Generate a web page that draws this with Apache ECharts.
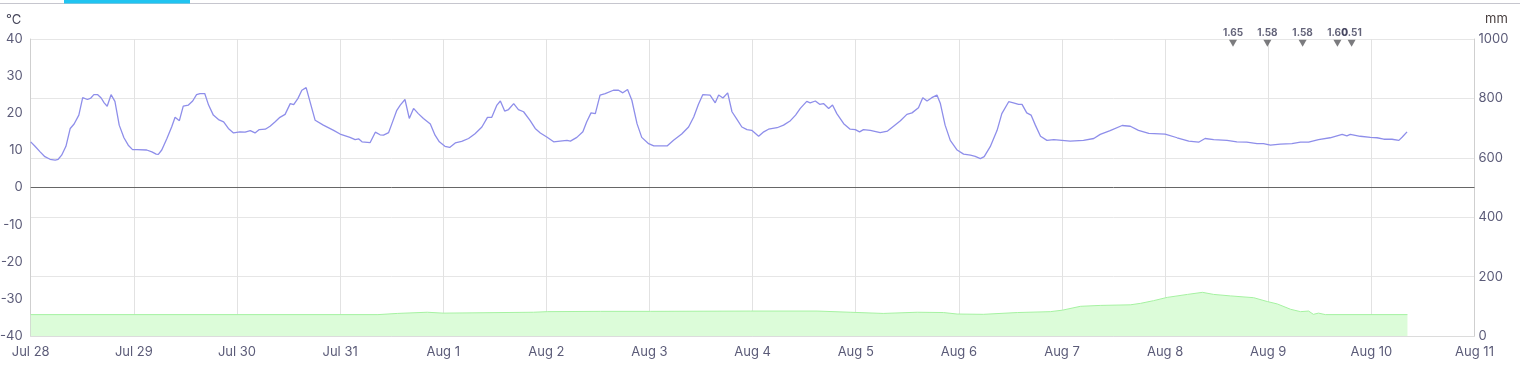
<!DOCTYPE html>
<html>
<head>
<meta charset="utf-8">
<script src="https://cdn.jsdelivr.net/npm/echarts@6/dist/echarts.min.js"></script>
<style>html,body{margin:0;padding:0;background:#fff}#c{width:1533px;height:366px}</style>
</head>
<body>
<div id="c"></div>
<script>
const dayLabels = ['Jul 28','Jul 29','Jul 30','Jul 31','Aug 1','Aug 2','Aug 3','Aug 4','Aug 5','Aug 6','Aug 7','Aug 8','Aug 9','Aug 10','Aug 11'];
const tempLeftTicks = [-40,-30,-20,-10,0,10,20,30,40];
const rainRightTicks = [0,200,400,600,800,1000];

// Temperature (°C): hours since Jul 28 00:00, values
const tempHours = [0,1,2.2,3.3,4.5,5.7,6.4,7.2,8.2,9.2,10.1,11.2,12.1,13.2,14,14.7,15.6,16.4,17.1,17.8,18.7,19.6,20.6,21.7,22.7,23.7,
24.7,27,28.2,29.2,29.7,30.5,31.7,32.8,33.6,34.6,35.5,36.7,37.7,38.6,39.4,40.5,41.4,42.5,43.7,44.9,46,47.2,
48.7,49.9,51.1,52.2,53.2,54.6,55.7,56.9,58,59.2,60.4,61.2,62.2,63.1,64.1,66.2,68.1,70.5,72,74.3,75.5,76.3,77.1,79,
80.2,81.3,82.1,83.3,84,85.2,86,87.1,88.1,89.1,90.2,91.4,93,94.1,95.1,96.4,97.5,98.8,100.3,101.9,103.4,105,106.3,107.3,108.5,109.3,110.3,111.2,112.4,113.5,114.7,116.2,117.4,118.6,120.1,121.7,123.2,124.8,125.6,127.1,128.5,129.4,130.4,131.4,132.5,133.7,135.6,136.8,137.8,138.9,139.9,141.1,142.2,143.8,145,146.5,148.1,149.6,151.5,153.1,154.3,155.4,156.4,158.1,159.3,160.1,161.1,162.2,163.2,164.4,165.5,166.7,167.8,169.4,170.6,171.7,173.7,175.2,176.8,178,179.1,
180.6,181.4,182.6,183.6,184.5,185.7,186.6,187.6,189.2,190.7,191.9,192.9,193.8,195.4,197.7,199.4,200.8,202.4,203.9,205.1,206.6,207.6,208.6,209.7,210.9,211.7,212.8,214,215.6,217.1,218.7,219.8,221,221.9,223.3,224.9,226,227.6,228.7,229.9,230.7,231.8,232.8,233.8,235,236.5,238.1,240,241.9,245,247.4,
248.9,251.2,254,255.9,257.8,260.2,264,266.8,269.5,271.8,273.3,275.3,278.4,280.7,283,285.4,286.9,288.5,290.8,293.5,295.5,297.4,299.7,302.4,305.2,306.3,307.1,309.4,311.8,313.3,314.9,316.8,318.4,319.2,320.3];
const tempValues = [12.3,11.1,9.6,8.3,7.6,7.4,7.6,8.7,11.1,15.9,17.1,19.5,24.2,23.7,24.1,25,25,24.1,22.8,21.9,25,23.2,16.8,13.4,11.4,10.2,
10.2,10.1,9.6,9,8.9,10.1,13.2,16.3,18.9,18,21.9,22.2,23.3,25,25.3,25.3,22.2,19.5,18.3,17.7,15.9,14.7,
15,14.9,15.3,14.7,15.6,15.7,16.5,17.7,18.9,19.7,22.6,22.3,24,26.2,26.9,18.1,16.8,15.4,14.4,13.5,12.9,13.1,12.3,12.1,
14.9,14.2,14.1,14.8,17,20.8,22.2,23.7,18.6,21.3,19.9,18.6,17.1,14.1,12.3,11.1,10.8,12,12.4,13.2,14.5,16.3,18.9,18.9,22.2,23.3,20.6,21,22.6,21,20.4,18.1,15.9,14.7,13.6,12.3,12.5,12.7,12.5,13.5,15,17.7,20.1,19.9,24.9,25.3,26.2,26.2,25.5,26.4,23.5,17.2,13.5,11.8,11.2,11.2,11.2,12.7,14.4,16.3,19,22.4,25,24.9,22.8,24.9,24.1,25.5,20.4,18.3,16.3,15.6,15.4,13.8,15,15.7,16.1,16.8,18,19.5,21.3,
23.2,22.8,23.3,22.4,22.6,21.3,22.2,19.9,17.2,15.7,15.6,15,15.6,15.4,14.8,15.2,16.5,18,19.7,20.1,21.5,24.2,23.3,24.2,24.9,22.6,16.8,12.7,10.1,9,8.7,8.4,7.8,8.3,11,15.4,19.9,23.1,22.8,22.4,22.4,20.1,19.5,16.8,13.8,12.7,12.9,12.7,12.5,12.7,13.2,
14.3,15.3,16.7,16.5,15.4,14.6,14.4,13.4,12.5,12.2,13.2,12.9,12.7,12.3,12.2,11.8,11.8,11.4,11.7,11.8,12.2,12.2,12.9,13.4,14.3,13.9,14.3,13.8,13.5,13.4,13,13,12.7,13.6,15];

// Rainfall accumulation (mm), right axis
const rainHours = [0,80.8,85.3,92.3,96,117,120.2,132.6,144.2,167.5,183,190.7,198.4,206.3,212.4,215.6,221.7,229.6,237.3,240.1,244.3,248.9,255.9,258.3,261.3,264.5,269.2,272.7,275.3,279.2,284.6,287.8,290.1,293.2,295.5,297.4,298.5,299.7,301.3,320.4];
const rainValues = [72,72,76,80,77,80,82,83,83,84,84,80,76,80,79,74,73,79,82,87,100,103,105,110,119,130,140,147,140,135,129,116,108,90,82,84,73,77,72,72];

// Precipitation markers
const precipHours = [279.8, 287.8, 296, 304.1, 307.4];
const precipLabels = ['1.65', '1.58', '1.58', '1.60', '0.51'];

const labelColor = '#5b5b78';
const font = 'Inter, "Noto Sans", sans-serif';

const chart = echarts.init(document.getElementById('c'), null, {renderer: 'canvas'});
chart.setOption({
  animation: false,
  grid: {left: 30.7, right: 58.5, top: 39, bottom: 30, containLabel: false, outerBoundsMode: 'none'},
  graphic: [
    {type: 'rect', shape: {x: 0, y: 3, width: 1520, height: 1}, style: {fill: '#c6c6ce'}, silent: true},
    {type: 'rect', shape: {x: 64, y: 0, width: 126, height: 3.5}, style: {fill: '#21c4f1'}, silent: true},
    {type: 'text', left: 6, top: 14, style: {text: '°C', fill: '#444458', font: '13px ' + font}, silent: true},
    {type: 'text', left: 1485, top: 13, style: {text: 'mm', fill: '#4a4040', font: '13px ' + font}, silent: true}
  ],
  xAxis: {
    type: 'value', min: 0, max: 336, interval: 24,
    axisLine: {show: true, onZero: false, lineStyle: {color: '#dcdcdc'}},
    axisTick: {show: false},
    splitLine: {show: true, lineStyle: {color: '#e2e2e2', width: 1}},
    axisLabel: {color: labelColor, fontFamily: font, fontSize: 13, margin: 10,
      formatter: v => dayLabels[Math.round(v / 24)] || ''}
  },
  yAxis: [
    {
      type: 'value', min: tempLeftTicks[0], max: tempLeftTicks[tempLeftTicks.length - 1], interval: 10,
      position: 'left',
      axisLine: {show: true, lineStyle: {color: '#cfcfcf'}},
      axisTick: {show: false},
      splitLine: {show: false},
      axisLabel: {color: labelColor, fontFamily: font, fontSize: 13, margin: 8,
        formatter: v => String(v)}
    },
    {
      type: 'value', min: rainRightTicks[0], max: rainRightTicks[rainRightTicks.length - 1], interval: 200,
      position: 'right',
      axisLine: {show: true, lineStyle: {color: '#cfcfcf'}},
      axisTick: {show: false},
      splitLine: {show: true, lineStyle: {color: '#e6e6e6', width: 1}},
      axisLabel: {color: labelColor, fontFamily: font, fontSize: 13, margin: 4,
        formatter: v => String(v)}
    }
  ],
  series: [
    {
      type: 'line', yAxisIndex: 1, showSymbol: false, silent: true,
      data: rainHours.map((h, i) => [h, rainValues[i]]),
      lineStyle: {color: '#a6f2a2', width: 1},
      areaStyle: {color: '#dcfcd9', opacity: 1},
      z: 1
    },
    {
      type: 'line', yAxisIndex: 0, showSymbol: false, silent: true,
      data: tempHours.map((h, i) => [h, tempValues[i]]),
      lineStyle: {color: '#8e8eea', width: 1.3},
      markLine: {silent: true, symbol: 'none', label: {show: false},
        lineStyle: {color: '#666', width: 1, type: 'solid'},
        data: [{yAxis: 0}]},
      z: 3
    },
    {
      type: 'scatter', yAxisIndex: 1, silent: true,
      symbol: 'triangle', symbolRotate: 180, symbolSize: [8, 7],
      itemStyle: {color: '#5a5a5e'},
      data: precipHours.map(h => [h, 986]),
      label: {show: true, position: 'top', distance: 2, color: '#3c3c58',
        fontFamily: font, fontSize: 10, fontWeight: 'bold',
        formatter: p => precipLabels[p.dataIndex]},
      z: 4
    }
  ]
});
</script>
</body>
</html>
